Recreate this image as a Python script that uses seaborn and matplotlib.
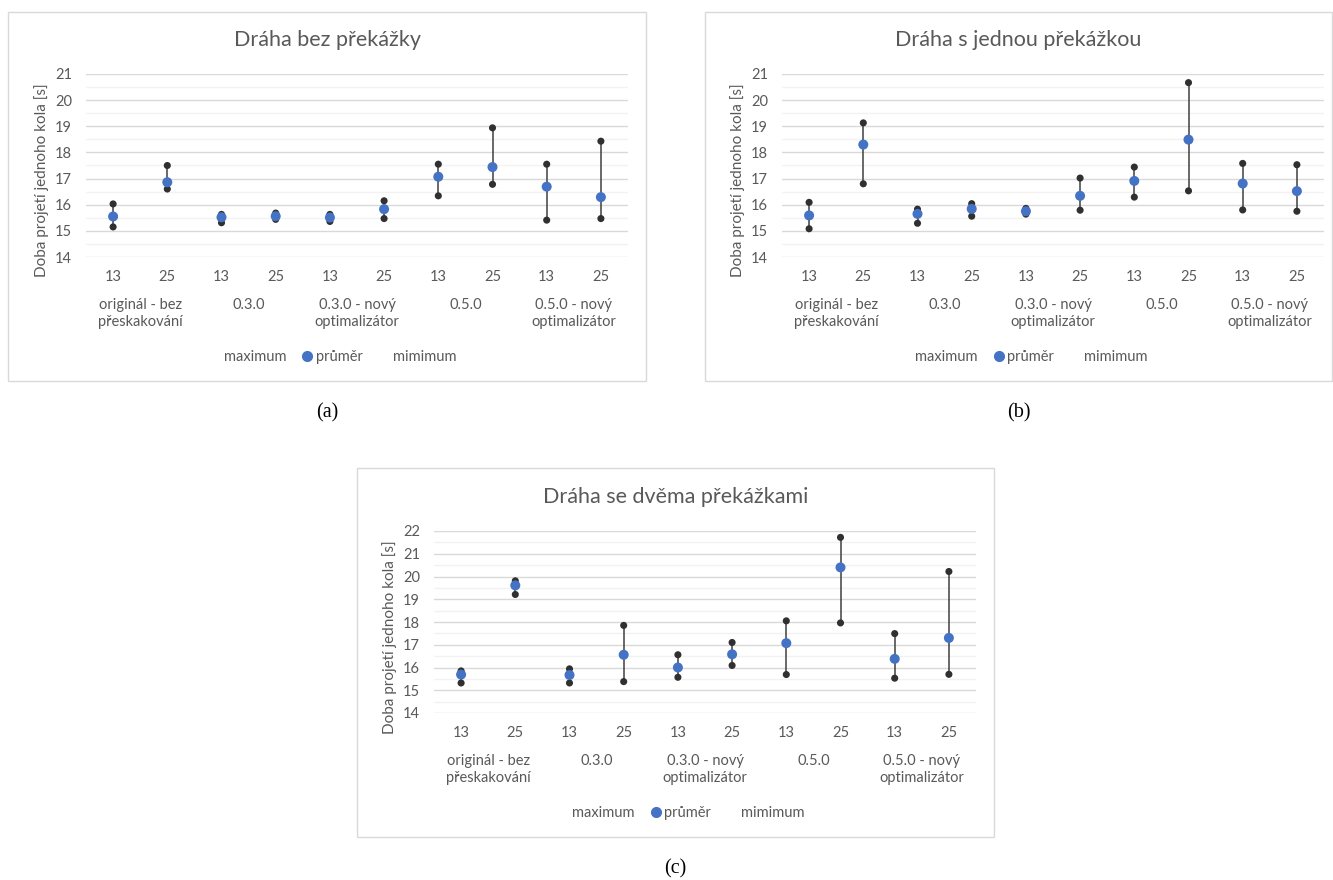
import numpy as np
import pandas as pd
import seaborn as sns
import matplotlib.pyplot as plt
from matplotlib.lines import Line2D
from matplotlib.patches import Rectangle

sns.set_theme(style="white")
plt.rcParams["font.family"] = ["Lato", "DejaVu Sans"]

groups = ["originál - bez\npřeskakování", "0.3.0", "0.3.0 - nový\noptimalizátor",
          "0.5.0", "0.5.0 - nový\noptimalizátor"]
sizes = ["13", "25"]
stats = ["maximum", "průměr", "mimimum"]

# (a) dráha bez překážky
a_max = [16.03, 17.50, 15.63, 15.68, 15.63, 16.15, 17.55, 18.94, 17.55, 18.43]
a_mean = [15.55, 16.86, 15.52, 15.56, 15.51, 15.83, 17.07, 17.44, 16.69, 16.29]
a_min = [15.15, 16.60, 15.31, 15.44, 15.36, 15.47, 16.34, 16.78, 15.41, 15.47]

# (b) dráha s jednou překážkou
b_max = [16.09, 19.13, 15.83, 16.04, 15.86, 17.02, 17.44, 20.67, 17.58, 17.53]
b_mean = [15.59, 18.30, 15.65, 15.84, 15.75, 16.34, 16.91, 18.49, 16.81, 16.52]
b_min = [15.08, 16.80, 15.29, 15.56, 15.64, 15.79, 16.29, 16.53, 15.80, 15.75]

# (c) dráha se dvěma překážkami
c_max = [15.85, 19.81, 15.94, 17.85, 16.56, 17.10, 18.05, 21.72, 17.49, 20.22]
c_mean = [15.69, 19.61, 15.67, 16.56, 16.00, 16.58, 17.07, 20.40, 16.38, 17.30]
c_min = [15.32, 19.21, 15.32, 15.38, 15.57, 16.09, 15.69, 17.96, 15.53, 15.70]

W, H = 1333, 880
TEXT = "#595959"
GRID = "#D9D9D9"
MINOR = "#F2F2F2"
BLUE = "#4472C4"
DARK = "#303030"
FS = 10.5

fig = plt.figure(figsize=(W / 100, H / 100), dpi=100)


def fx(px):
    return px / W


def fy(py):
    return 1 - py / H


def panel(frame, plot, title, ylim, caption, maxs, means, mins):
    fx0, fy0, fx1, fy1 = frame
    fig.add_artist(Rectangle((fx(fx0), fy(fy1)), fx(fx1 - fx0), (fy1 - fy0) / H,
                             transform=fig.transFigure, fill=False, ec=GRID, lw=1))
    px0, py0, px1, py1 = plot
    ax = fig.add_axes([fx(px0), fy(py1), fx(px1 - px0), (py1 - py0) / H])

    n = len(maxs)
    pos = np.arange(n)
    df = pd.DataFrame({
        "pos": np.tile(pos, 3),
        "value": np.concatenate([maxs, mins, means]),
        "stat": np.repeat(["maximum", "mimimum", "průměr"], n),
    })
    # high-low lines, then the points on top
    ax.vlines(pos, mins, maxs, color="#404040", lw=1.1, zorder=2)
    dark = df[df["stat"] != "průměr"]
    sns.scatterplot(data=dark, x="pos", y="value", color=DARK, s=26,
                    edgecolor="none", legend=False, ax=ax, zorder=3)
    sns.scatterplot(data=df[df["stat"] == "průměr"], x="pos", y="value", color=BLUE,
                    s=52, edgecolor="none", legend=False, ax=ax, zorder=4)

    ax.set_xlim(-0.5, n - 0.5)
    ax.set_ylim(*ylim)
    ax.set_yticks(np.arange(ylim[0], ylim[1] + 1, 1))
    ax.set_yticks(np.arange(ylim[0] + 0.5, ylim[1], 1), minor=True)
    ax.set_xticks(pos)
    ax.set_xticklabels(sizes * (n // 2))
    ax.grid(axis="y", which="major", color=GRID, lw=1)
    ax.grid(axis="y", which="minor", color=MINOR, lw=1)
    ax.set_axisbelow(True)
    for s in ax.spines.values():
        s.set_visible(False)
    ax.tick_params(axis="both", which="both", length=0, labelsize=FS, labelcolor=TEXT)
    ax.tick_params(axis="x", pad=9.5)
    ax.tick_params(axis="y", pad=10)
    ax.set_xlabel("")
    ax.set_ylabel("")

    for i, g in enumerate(groups):
        ax.annotate(g, xy=(2 * i + 0.5, 0), xycoords=ax.get_xaxis_transform(),
                    xytext=(0, -29.5), textcoords="offset points", ha="center", va="top",
                    fontsize=FS, color=TEXT, linespacing=1.3)

    cx = (fx0 + fx1) / 2
    fig.text(fx(cx), fy(py0 - 34), title, ha="center", va="center", fontsize=15.5, color=TEXT)
    fig.text(fx(px0 - 44), fy((py0 + py1) / 2 + 15), "Doba projetí jednoho kola [s]",
             rotation=90, ha="center", va="center", fontsize=11, color=TEXT)

    handles = [Line2D([], [], ls="none", marker="none"),
               Line2D([], [], ls="none", marker="o", color=BLUE, markersize=7),
               Line2D([], [], ls="none", marker="none")]
    fig.legend(handles, stats, loc="center", bbox_to_anchor=(fx(cx + 6), fy(py1 + 100)),
               ncol=3, frameon=False, fontsize=FS, labelcolor=TEXT, handlelength=0.7,
               handletextpad=0.25, columnspacing=1.1)
    fig.text(fx(cx), fy(fy1 + 32), caption, ha="center", va="center", fontsize=14.5,
             family="Liberation Serif", color="black")
    return ax


panel((8, 12, 646, 381), (86, 74, 628, 257), "Dráha bez překážky", (14, 21), "(a)",
      a_max, a_mean, a_min)
panel((705, 12, 1332, 381), (782, 74, 1324, 257), "Dráha s jednou překážkou", (14, 21), "(b)",
      b_max, b_mean, b_min)
panel((357, 468, 994, 837), (434, 531, 976, 713), "Dráha se dvěma překážkami", (14, 22), "(c)",
      c_max, c_mean, c_min)

fig.savefig("out.png", dpi=100, facecolor="white")
